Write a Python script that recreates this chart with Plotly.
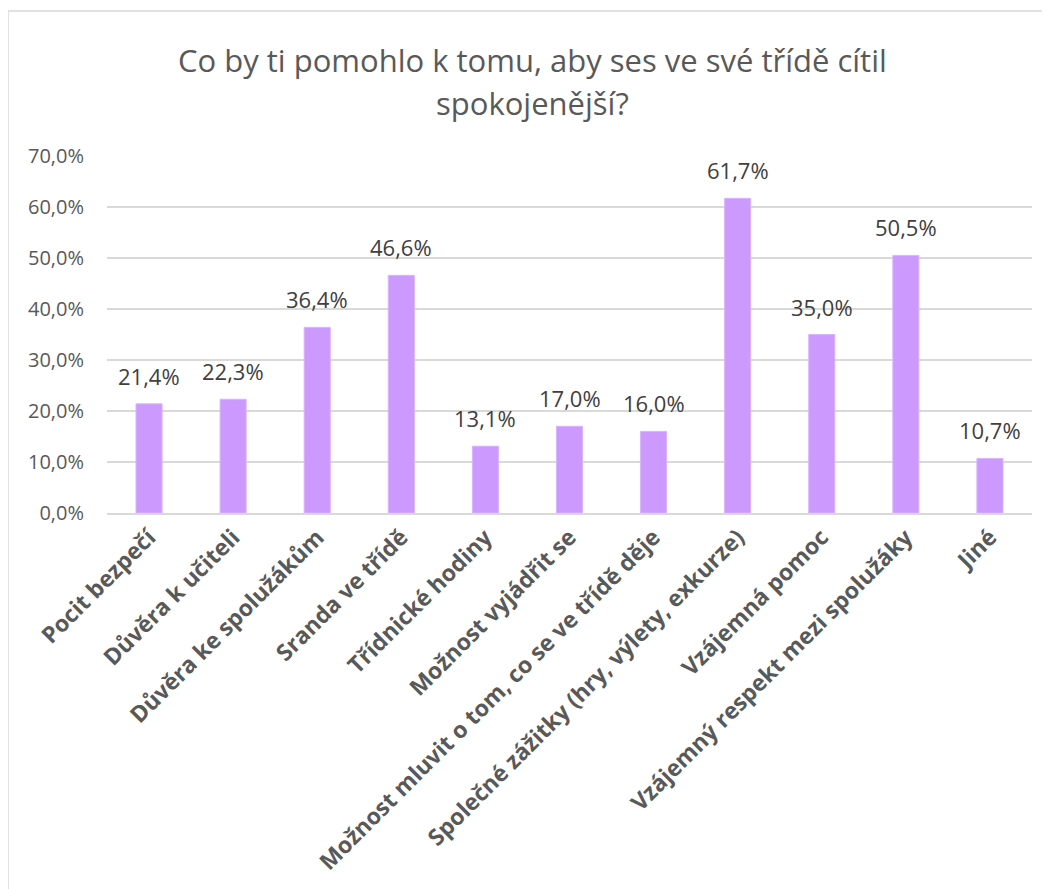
import plotly.graph_objects as go

# survey answers
categories = [
    "Pocit bezpečí",
    "Důvěra k učiteli",
    "Důvěra ke spolužákům",
    "Sranda ve třídě",
    "Třídnické hodiny",
    "Možnost vyjádřit se",
    "Možnost mluvit o tom, co se ve třídě děje",
    "Společné zážitky (hry, výlety, exkurze)",
    "Vzájemná pomoc",
    "Vzájemný respekt mezi spolužáky",
    "Jiné",
]
values = [21.4, 22.3, 36.4, 46.6, 13.1, 17.0, 16.0, 61.7, 35.0, 50.5, 10.7]

title_lines = ["Co by ti pomohlo k tomu, aby ses ve své třídě cítil", "spokojenější?"]

BAR = "#CC99FF"
GRID = "#D9D9D9"
TXT = "#595959"
LBL = "#404040"
FONT = "Open Sans"

# page has an 8px body margin, so the figure is a bit smaller than the window
OFF = 8
W, H = 1050 - OFF, 889 - OFF
L, R, T, B = 107 - OFF, W - (1032 - OFF), 156 - OFF, H - (513 - OFF)
pw, ph = W - L - R, H - T - B


def px_x(x):
    return (x - OFF - L) / pw


def px_y(y):
    return (H - B - (y - OFF)) / ph


fig = go.Figure()

fig.add_trace(
    go.Bar(
        x=categories,
        y=values,
        marker=dict(color=BAR, line=dict(color="#D9B3FF", width=1)),
        hoverinfo="x+y",
    )
)

# data labels
for c, v in zip(categories, values):
    fig.add_annotation(
        x=c,
        y=v,
        text=f"{v:.1f}".replace(".", ",") + "%",
        showarrow=False,
        yanchor="bottom",
        yshift=11,
        font=dict(family=FONT, size=22, color=LBL),
    )

# title, two lines
for i, line in enumerate(title_lines):
    fig.add_annotation(
        x=px_x(532),
        y=px_y(60 + i * 43),
        xref="paper",
        yref="paper",
        text=line,
        showarrow=False,
        xanchor="center",
        yanchor="middle",
        font=dict(family=FONT, size=31, color=TXT),
    )

# chart border (only top / left visible)
fig.add_shape(
    type="rect",
    xref="paper",
    yref="paper",
    x0=px_x(8),
    x1=px_x(1080),
    y0=px_y(920),
    y1=px_y(11),
    line=dict(color=GRID, width=1.5),
    fillcolor="rgba(0,0,0,0)",
    layer="below",
)

fig.update_layout(
    width=W,
    height=H,
    margin=dict(l=L, r=R, t=T, b=B),
    paper_bgcolor="white",
    plot_bgcolor="white",
    separators=", ",
    bargap=0.69,
    showlegend=False,
    font=dict(family=FONT, color=TXT),
    xaxis=dict(
        tickangle=-45,
        tickfont=dict(family=FONT, size=23, color=TXT, weight="bold"),
        showgrid=False,
        showline=True,
        linecolor=GRID,
        linewidth=1.5,
        ticks="",
        automargin=False,
    ),
    yaxis=dict(
        range=[0, 70],
        dtick=10,
        tickformat=".1f",
        ticksuffix="%",
        tickfont=dict(family=FONT, size=20, color=TXT),
        showgrid=True,
        gridcolor=GRID,
        gridwidth=1.5,
        zeroline=False,
        showline=False,
        ticks="",
        ticklabelstandoff=22,
        automargin=False,
    ),
)

fig.write_html("out.html")
